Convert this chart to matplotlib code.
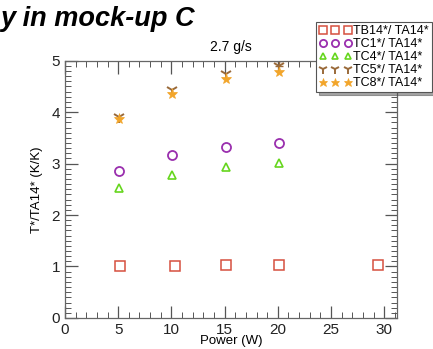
import matplotlib.pyplot as plt
from matplotlib.ticker import MultipleLocator

plt.rcParams['font.family'] = ['Liberation Sans', 'DejaVu Sans']

# data
power_tb14 = [5.2, 10.3, 15.1, 20.1, 29.4]
tb14 = [1.00, 1.01, 1.02, 1.03, 1.02]

power = [5.1, 10.1, 15.1, 20.1]
tc1 = [2.85, 3.16, 3.33, 3.40]
tc4 = [2.52, 2.78, 2.94, 3.02]
tc5 = [3.90, 4.43, 4.74, 4.90]
tc8 = [3.86, 4.35, 4.64, 4.79]

fig = plt.figure(figsize=(4.33, 3.49), dpi=100)
ax = fig.add_axes([0.150, 0.089, 0.767, 0.737])

ax.plot(power_tb14, tb14, 's', ms=7, mfc='none', mec='#d6503f', mew=1.1, label='TB14*/ TA14*')
ax.plot(power, tc1, 'o', ms=6.5, mfc='none', mec='#9a2fae', mew=1.3, label='TC1*/ TA14*')
ax.plot(power, tc4, '^', ms=6, mfc='none', mec='#66d61e', mew=1.2, label='TC4*/ TA14*')
ax.plot(power, tc5, '1', ms=9, mec='#9a6a3a', mew=1.4, label='TC5*/ TA14*')
ax.plot(power, tc8, '*', ms=8, color='#f2a52a', mew=0.5, label='TC8*/ TA14*')
# error bar on the last TC5 point
ax.errorbar([power[3]], [tc5[3]], yerr=[[0], [0.1]], fmt='none', ecolor='#9a6a3a', elinewidth=1, capsize=3)

ax.set_xlim(0, 31.2)
ax.set_ylim(0, 5)
ax.xaxis.set_major_locator(MultipleLocator(5))
ax.xaxis.set_minor_locator(MultipleLocator(1))
ax.yaxis.set_major_locator(MultipleLocator(1))
ax.yaxis.set_minor_locator(MultipleLocator(0.1))
ax.tick_params(which='both', direction='in', top=True, right=True, colors='#555555',
               labelcolor='#222222', labelsize=11)
ax.tick_params(which='major', length=9, width=0.9)
ax.tick_params(which='minor', length=4, width=0.7)
for s in ax.spines.values():
    s.set_color('#666666')
    s.set_linewidth(0.9)

ax.set_xlabel('Power (W)', fontsize=9.5, labelpad=-1)
ax.set_ylabel('T*/TA14* (K/K)', fontsize=9.5, labelpad=6)
ax.set_title('2.7 g/s', fontsize=10, pad=7)

fig.text(0.0, 0.945, 'y in mock-up C', fontsize=19.5, fontweight='bold', style='italic',
         ha='left', va='center')

leg = fig.legend(loc='upper left', bbox_to_anchor=(316 / 433, 1 - 22 / 349), numpoints=3,
                 fontsize=9, frameon=True, fancybox=False, shadow=True, handlelength=2.6,
                 handletextpad=0.1, labelspacing=0.08, borderpad=0.25, borderaxespad=0,
                 markerscale=0.8)
leg.get_frame().set_edgecolor('#555555')
leg.get_frame().set_linewidth(0.8)

fig.savefig('out.png', dpi=100)
